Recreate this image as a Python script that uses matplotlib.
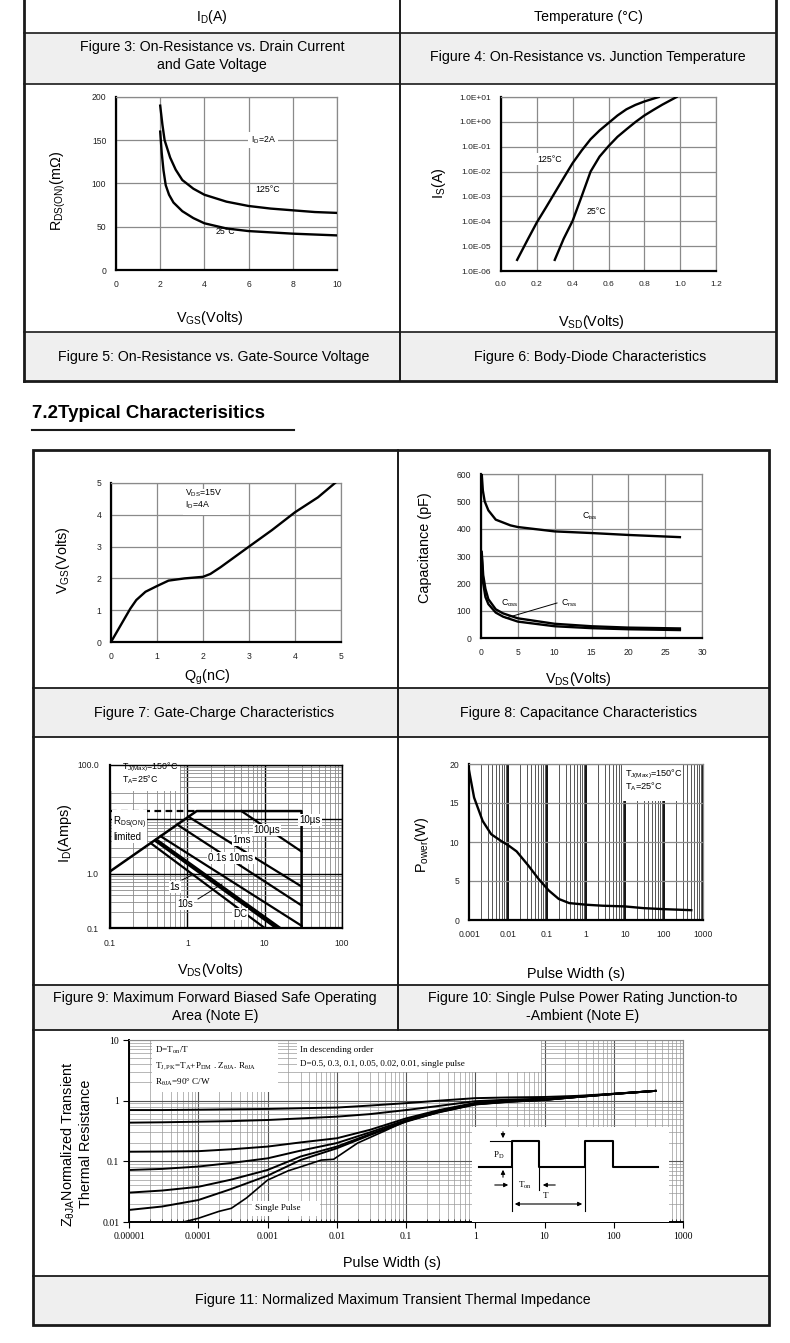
import matplotlib
matplotlib.use("Agg")
import matplotlib.pyplot as plt
from matplotlib.patches import Rectangle
from matplotlib.ticker import NullLocator, LogLocator, NullFormatter

plt.rcParams['font.family'] = ['Liberation Sans', 'DejaVu Sans']
plt.rcParams['mathtext.fontset'] = 'custom'
plt.rcParams['mathtext.rm'] = 'Liberation Sans'
plt.rcParams['mathtext.it'] = 'Liberation Sans:italic'
plt.rcParams['mathtext.sf'] = 'Liberation Serif'
plt.rcParams['mathtext.default'] = 'rm'

W, H = 790, 1343

# Figure 5: on-resistance vs gate-source voltage (ID = 2A)
vgs_125 = [2.0, 2.1, 2.2, 2.45, 2.7, 3.0, 3.5, 4.0, 5.0, 6.0, 7.0, 8.0, 9.0, 10.0]
rds_125 = [190, 168, 150, 130, 116, 104, 94, 87, 79, 74, 71, 69, 67, 66]
vgs_25 = [2.0, 2.07, 2.15, 2.25, 2.4, 2.6, 3.0, 3.5, 4.0, 5.0, 6.0, 7.0, 8.0, 9.0, 10.0]
rds_25 = [160, 135, 115, 98, 87, 78, 68, 60, 54, 48, 45, 43.5, 42, 41, 40]

# Figure 6: body diode
vsd_125 = [0.09, 0.15, 0.2, 0.25, 0.3, 0.35, 0.4, 0.45, 0.5, 0.55, 0.6, 0.65, 0.7, 0.75, 0.8, 0.88]
is_125 = [2.8e-6, 1.9e-5, 9e-5, 3.5e-4, 1.4e-3, 5.6e-3, 2.2e-2, 7e-2, 0.2, 0.45, 0.9, 1.8, 3.2, 4.8, 6.6, 10]
vsd_25 = [0.3, 0.35, 0.4, 0.45, 0.5, 0.55, 0.6, 0.65, 0.7, 0.75, 0.8, 0.85, 0.9, 0.98]
is_25 = [2.8e-6, 2e-5, 1.05e-4, 1e-3, 1e-2, 0.04, 0.105, 0.25, 0.5, 0.98, 1.8, 3.0, 4.9, 10]

# Figure 7: gate charge
qg = [0, 0.2, 0.42, 0.55, 0.75, 1.0, 1.25, 1.6, 2.0, 2.16, 2.38, 3.0, 3.5, 4.0, 4.5, 4.87]
vgs_q = [0, 0.5, 1.05, 1.32, 1.58, 1.76, 1.93, 2.0, 2.05, 2.14, 2.35, 3.0, 3.52, 4.08, 4.55, 5.0]

# Figure 8: capacitance
vds_ciss = [0.1, 0.25, 0.5, 1, 2, 4, 5, 10, 15, 20, 27]
ciss = [600, 540, 500, 467, 433, 412, 406, 390, 384, 377, 369]
vds_c = [0.1, 0.3, 0.6, 1, 2, 3, 5, 10, 15, 20, 27]
coss = [315, 230, 180, 142, 105, 90, 72, 52, 43, 38, 35]
crss = [300, 200, 150, 124, 93, 78, 60, 43, 36, 32, 29]

# Figure 9: safe operating area
soa_v = [0.1, 1.32, 30, 30]
soa_i = [1.1, 14.2, 14.2, 0.1]
rds_lim_v = [0.1, 1.32]
rds_lim_i = [14.2, 14.2]
pulse_names = ['10us', '100us', '1ms', '10ms', '0.1s', '1s', '10s', 'DC']
pulse_v0 = [5.0, 1.03, 0.74, 0.45, 0.40, 0.39, 0.38, 0.34]
pulse_i0 = [14.2, 11.2, 8.0, 4.9, 4.25, 4.15, 4.05, 3.6]
pulse_v1 = [30, 30, 30, 30, 16, 15, 14, 10]
pulse_i1 = [2.55, 0.58, 0.26, 0.11, 0.1, 0.1, 0.1, 0.1]

# Figure 10: single pulse power
pw = [0.001, 0.00135, 0.00224, 0.0037, 0.0068, 0.01, 0.0166, 0.033, 0.06, 0.11,
      0.2, 0.37, 1.0, 2.7, 10, 30, 100, 500]
pwr = [19.2, 15.7, 12.7, 11.0, 10.1, 9.6, 8.8, 7.0, 5.3, 3.8,
       2.7, 2.17, 1.96, 1.83, 1.74, 1.52, 1.39, 1.26]

# Figure 11: normalized transient thermal impedance
zt = [1e-5, 3e-5, 1e-4, 3e-4, 1e-3, 3e-3, 1e-2, 3e-2, 0.1, 0.3, 1, 3, 10, 30, 100, 400]
z_d50 = [0.70, 0.70, 0.71, 0.72, 0.73, 0.75, 0.77, 0.83, 0.91, 1.0, 1.1, 1.13, 1.15, 1.2, 1.3, 1.45]
z_d30 = [0.434, 0.44, 0.45, 0.46, 0.48, 0.51, 0.545, 0.60, 0.70, 0.82, 0.98, 1.04, 1.08, 1.17, 1.3, 1.45]
z_d10 = [0.144, 0.145, 0.147, 0.158, 0.175, 0.205, 0.24, 0.33, 0.51, 0.70, 0.92, 1.0, 1.05, 1.16, 1.29, 1.45]
z_d05 = [0.072, 0.075, 0.082, 0.094, 0.112, 0.15, 0.2, 0.30, 0.48, 0.68, 0.90, 0.98, 1.04, 1.15, 1.29, 1.45]
z_d02 = [0.0305, 0.033, 0.038, 0.050, 0.072, 0.12, 0.175, 0.28, 0.46, 0.66, 0.88, 0.97, 1.03, 1.15, 1.29, 1.45]
z_d01 = [0.0158, 0.018, 0.023, 0.035, 0.058, 0.105, 0.164, 0.27, 0.45, 0.65, 0.87, 0.96, 1.03, 1.15, 1.29, 1.45]
zt_single = [6.1e-5, 1e-4, 2e-4, 3e-4, 5e-4, 1e-3, 2e-3, 3.1e-3, 6e-3, 9e-3, 2e-2, 5e-2,
             0.1, 0.3, 1, 3, 10, 30, 100, 400]
z_single = [0.01, 0.0115, 0.015, 0.0168, 0.025, 0.049, 0.07, 0.082, 0.105, 0.108, 0.2, 0.32,
            0.46, 0.64, 0.86, 0.95, 1.02, 1.15, 1.29, 1.45]


fig = plt.figure(figsize=(W / 100, H / 100), dpi=100)
bg = fig.add_axes([0, 0, 1, 1])
bg.set_xlim(0, W)
bg.set_ylim(H, 0)
bg.axis('off')

INK = '#1a1a1a'
BAND = '#efefef'


def fx(x):
    return x / W


def fy(y):
    return 1 - y / H


def px_axes(l, t, r, b):
    return fig.add_axes([fx(l), fy(b), (r - l) / W, (b - t) / H])


def ptext(ax, x, y, s, **kw):
    kw.setdefault('fontsize', 6.3)
    kw.setdefault('ha', 'center')
    kw.setdefault('va', 'center')
    return ax.text(fx(x), fy(y), s, transform=fig.transFigure, **kw)


def white_box(ax, l, t, r, b, z=1.5):
    ax.add_patch(Rectangle((fx(l), fy(b)), (r - l) / W, (b - t) / H,
                           transform=fig.transFigure, fc='white', ec='none', zorder=z))


def lin_axes(l, t, r, b):
    ax = px_axes(l, t, r, b)
    ax.grid(True, color='#8a8a8a', lw=0.9)
    ax.set_axisbelow(True)
    for s in ('top', 'right'):
        ax.spines[s].set_color('#8a8a8a')
        ax.spines[s].set_linewidth(0.9)
    for s in ('left', 'bottom'):
        ax.spines[s].set_color('black')
        ax.spines[s].set_linewidth(1.6)
    ax.tick_params(length=0, labelsize=6.2, pad=7, labelcolor='#222')
    return ax


# ---------- page frame ----------
bg.add_patch(Rectangle((24, 33), 752, 51, fc=BAND, ec='none'))
bg.add_patch(Rectangle((24, 332), 752, 49, fc=BAND, ec='none'))
for y in (33, 84, 332):
    bg.plot([24, 776], [y, y], color=INK, lw=1.2)
bg.plot([24, 776], [381, 381], color=INK, lw=2)
for x in (24, 776):
    bg.plot([x, x], [0, 381], color=INK, lw=2)
bg.plot([400, 400], [0, 381], color=INK, lw=1.4)

bg.text(212, 17, 'I$_D$(A)', fontsize=10.2, ha='center', va='center')
bg.text(588, 17, 'Temperature (°C)', fontsize=10.2, ha='center', va='center')
bg.text(212, 56, 'Figure 3: On-Resistance vs. Drain Current\nand Gate Voltage', fontsize=10.2,
        ha='center', va='center', linespacing=1.45)
bg.text(588, 57, 'Figure 4: On-Resistance vs. Junction Temperature', fontsize=10.2,
        ha='center', va='center')
bg.text(214, 357, 'Figure 5: On-Resistance vs. Gate-Source Voltage', fontsize=10.2,
        ha='center', va='center')
bg.text(590, 357, 'Figure 6: Body-Diode Characteristics', fontsize=10.2, ha='center', va='center')

bg.text(32, 413, '7.2Typical Characterisitics', fontsize=13.4, weight='bold', va='center')
bg.plot([32, 294], [430, 430], color=INK, lw=1.5)

for t, b in ((688, 737), (985, 1030), (1276, 1325)):
    bg.add_patch(Rectangle((33, t), 736, b - t, fc=BAND, ec='none'))
for y in (688, 737, 985, 1030, 1276):
    bg.plot([33, 769], [y, y], color=INK, lw=1.3)
bg.add_patch(Rectangle((33, 450), 736, 875, fc='none', ec=INK, lw=2))
bg.plot([398, 398], [450, 1030], color=INK, lw=1.4)

bg.text(214, 713, 'Figure 7: Gate-Charge Characteristics', fontsize=10.2, ha='center', va='center')
bg.text(578, 713, 'Figure 8: Capacitance Characteristics', fontsize=10.2, ha='center', va='center')
bg.text(215, 1007, 'Figure 9: Maximum Forward Biased Safe Operating\nArea (Note E)', fontsize=10.2,
        ha='center', va='center', linespacing=1.45)
bg.text(583, 1007, 'Figure 10: Single Pulse Power Rating Junction-to\n-Ambient (Note E)', fontsize=10.2,
        ha='center', va='center', linespacing=1.45)
bg.text(393, 1300, 'Figure 11: Normalized Maximum Transient Thermal Impedance', fontsize=10.2,
        ha='center', va='center')

# axis titles
LAB = 10.4
bg.text(58, 191, 'R$_{DS(ON)}$(mΩ)', fontsize=LAB, rotation=90, ha='center', va='center')
bg.text(210, 318, 'V$_{GS}$(Volts)', fontsize=LAB, ha='center', va='center')
bg.text(439, 183, 'I$_S$(A)', fontsize=LAB, rotation=90, ha='center', va='center')
bg.text(591, 322, 'V$_{SD}$(Volts)', fontsize=LAB, ha='center', va='center')
bg.text(63, 560, 'V$_{GS}$(Volts)', fontsize=LAB, rotation=90, ha='center', va='center')
bg.text(207, 677, 'Q$_g$(nC)', fontsize=LAB, ha='center', va='center')
bg.text(425, 548, 'Capacitance (pF)', fontsize=LAB, rotation=90, ha='center', va='center')
bg.text(578, 679, 'V$_{DS}$(Volts)', fontsize=LAB, ha='center', va='center')
bg.text(65, 833, 'I$_D$(Amps)', fontsize=LAB, rotation=90, ha='center', va='center')
bg.text(210, 970, 'V$_{DS}$(Volts)', fontsize=LAB, ha='center', va='center')
bg.text(422, 845, 'P$_{ower}$(W)', fontsize=LAB, rotation=90, ha='center', va='center')
bg.text(576, 974, 'Pulse Width (s)', fontsize=LAB, ha='center', va='center')
bg.text(76, 1144, 'Z$_{θJA}$Normalized Transient\nThermal Resistance', fontsize=LAB, rotation=90,
        ha='center', va='center', multialignment='center', linespacing=1.15)
bg.text(392, 1263, 'Pulse Width (s)', fontsize=LAB, ha='center', va='center')

# ---------- Figure 5 ----------
ax = lin_axes(116, 97, 337, 270)
ax.plot(vgs_125, rds_125, color='black', lw=1.7, zorder=3)
ax.plot(vgs_25, rds_25, color='black', lw=1.7, zorder=3)
ax.set_xlim(0, 10)
ax.set_ylim(0, 200)
ax.set_xticks(range(0, 11, 2))
ax.set_yticks(range(0, 201, 50))
ptext(ax, 263, 140, 'I$_D$=2A', bbox=dict(fc='white', ec='none', pad=1.5), zorder=2)
ptext(ax, 268, 189, '125°C', zorder=2)
ptext(ax, 225, 232, '25°C', zorder=2)

# ---------- Figure 6 ----------
ax = lin_axes(501, 97, 716, 271)
ax.plot(vsd_125, is_125, color='black', lw=1.7, zorder=3)
ax.plot(vsd_25, is_25, color='black', lw=1.7, zorder=3)
ax.set_yscale('log')
ax.set_xlim(0, 1.2)
ax.set_ylim(1e-6, 1e1)
ax.set_xticks([0, 0.2, 0.4, 0.6, 0.8, 1.0, 1.2])
ax.set_xticklabels(['0.0', '0.2', '0.4', '0.6', '0.8', '1.0', '1.2'])
ax.set_yticks([1e-6, 1e-5, 1e-4, 1e-3, 1e-2, 1e-1, 1e0, 1e1])
ax.set_yticklabels(['1.0E-06', '1.0E-05', '1.0E-04', '1.0E-03', '1.0E-02', '1.0E-01',
                    '1.0E+00', '1.0E+01'])
ax.yaxis.set_minor_locator(NullLocator())
ax.tick_params(labelsize=6.0)
ptext(ax, 550, 159, '125°C', bbox=dict(fc='white', ec='none', pad=1), zorder=2)
ptext(ax, 596, 211, '25°C', bbox=dict(fc='white', ec='none', pad=1), zorder=2)

# ---------- Figure 7 ----------
ax = lin_axes(111, 483, 341, 642)
ax.plot(qg, vgs_q, color='black', lw=1.7, zorder=3)
ax.set_xlim(0, 5)
ax.set_ylim(0, 5)
ax.set_xticks(range(0, 6))
ax.set_yticks(range(0, 6))
white_box(ax, 183, 489, 230, 515)
ptext(ax, 185, 493, 'V$_{DS}$=15V', ha='left', zorder=2)
ptext(ax, 185, 505, 'I$_D$=4A', ha='left', zorder=2)

# ---------- Figure 8 ----------
ax = lin_axes(481, 474, 702, 638)
ax.plot(vds_ciss, ciss, color='black', lw=1.7, zorder=3)
ax.plot(vds_c, coss, color='black', lw=1.7, zorder=3)
ax.plot(vds_c, crss, color='black', lw=1.7, zorder=3)
ax.set_xlim(0, 30)
ax.set_ylim(0, 600)
ax.set_xticks(range(0, 31, 5))
ax.set_yticks(range(0, 601, 100))
ptext(ax, 590, 516, 'C$_{iss}$', zorder=2)
ptext(ax, 510, 603, 'C$_{oss}$', zorder=2)
ptext(ax, 569, 603, 'C$_{rss}$', zorder=2)
ax.plot([fx(506), fx(557)], [fy(618), fy(603)], transform=fig.transFigure, color='black', lw=0.7)

# ---------- Figure 9 ----------
ax = px_axes(110, 765, 342, 928)
ax.set_xscale('log')
ax.set_yscale('log')
ax.set_xlim(0.1, 100)
ax.set_ylim(0.1, 100)
ax.grid(True, which='major', color='black', lw=1.0)
ax.grid(True, which='minor', color='#8a8a8a', lw=0.6)
ax.set_axisbelow(True)
for s in ax.spines.values():
    s.set_color('black')
    s.set_linewidth(1.0)
ax.spines['left'].set_linewidth(1.6)
ax.spines['bottom'].set_linewidth(1.6)
ax.set_xticks([0.1, 1, 10, 100])
ax.set_xticklabels(['0.1', '1', '10', '100'])
ax.set_yticks([0.1, 1, 10, 100])
ax.set_yticklabels(['0.1', '1.0', '', '100.0'])
ax.xaxis.set_minor_formatter(NullFormatter())
ax.yaxis.set_minor_formatter(NullFormatter())
ax.tick_params(which='both', length=0, labelsize=6.2, pad=8, labelcolor='#222')
ax.plot(rds_lim_v, rds_lim_i, color='black', lw=1.6, ls=(0, (3, 2)), zorder=3)
ax.plot(soa_v, soa_i, color='black', lw=1.8, zorder=3)
for k in range(len(pulse_names)):
    ax.plot([pulse_v0[k], pulse_v1[k]], [pulse_i0[k], pulse_i1[k]], color='black', lw=1.6, zorder=3)
wb = dict(fc='white', ec='none', pad=0.8)
ptext(ax, 113, 828, 'R$_{DS(ON)}$\nlimited', ha='left', fontsize=7, linespacing=1.1, bbox=wb, zorder=4)
ptext(ax, 310, 820, '10µs', fontsize=7, bbox=wb, zorder=4)
ptext(ax, 267, 830, '100µs', fontsize=7, bbox=wb, zorder=4)
ptext(ax, 242, 840, '1ms', fontsize=7, bbox=wb, zorder=4)
ptext(ax, 231, 858, '0.1s 10ms', fontsize=7, bbox=wb, zorder=4)
ptext(ax, 175, 887, '1s', fontsize=7, bbox=wb, zorder=4)
ptext(ax, 185, 904, '10s', fontsize=7, bbox=wb, zorder=4)
ptext(ax, 240, 914, 'DC', fontsize=7, bbox=wb, zorder=4)
ax.plot([fx(182), fx(194)], [fy(880), fy(874)], transform=fig.transFigure, color='black', lw=0.7, zorder=4)
ax.plot([fx(198), fx(222)], [fy(899), fy(884)], transform=fig.transFigure, color='black', lw=0.7, zorder=4)
white_box(ax, 110, 765, 180, 791, z=2.5)
ptext(ax, 122, 767, 'T$_{J(Max)}$=150°C', ha='left', fontsize=6.4, zorder=4)
ptext(ax, 122, 780, 'T$_A$=25°C', ha='left', fontsize=6.4, zorder=4)

# ---------- Figure 10 ----------
ax = px_axes(469, 764, 703, 920)
ax.set_xscale('log')
ax.set_xlim(0.001, 1000)
ax.set_ylim(0, 20)
ax.grid(True, which='major', axis='x', color='black', lw=1.3)
ax.grid(True, which='minor', axis='x', color='#555555', lw=0.7)
ax.grid(True, which='major', axis='y', color='#8a8a8a', lw=0.9)
ax.set_axisbelow(True)
for s in ('top', 'right'):
    ax.spines[s].set_color('#8a8a8a')
    ax.spines[s].set_linewidth(0.9)
for s in ('left', 'bottom'):
    ax.spines[s].set_linewidth(1.6)
ax.set_xticks([0.001, 0.01, 0.1, 1, 10, 100, 1000])
ax.set_xticklabels(['0.001', '0.01', '0.1', '1', '10', '100', '1000'])
ax.xaxis.set_minor_formatter(NullFormatter())
ax.set_yticks(range(0, 21, 5))
ax.tick_params(which='both', length=0, labelsize=6.2, pad=7, labelcolor='#222')
ax.plot(pw, pwr, color='black', lw=1.7, zorder=3)
white_box(ax, 622, 765, 683, 801)
ptext(ax, 625, 774, 'T$_{J(Max)}$=150°C', ha='left', fontsize=6.6, zorder=4)
ptext(ax, 625, 787, 'T$_A$=25°C', ha='left', fontsize=6.6, zorder=4)

# ---------- Figure 11 ----------
ax = px_axes(129, 1040, 683, 1222)
ax.set_xscale('log')
ax.set_yscale('log')
ax.set_xlim(1e-5, 1e3)
ax.set_ylim(0.01, 10)
ax.xaxis.set_major_locator(LogLocator(base=10, numticks=20))
ax.xaxis.set_minor_locator(LogLocator(base=10, subs=range(2, 10), numticks=100))
ax.grid(True, which='major', color='#555555', lw=0.8)
ax.grid(True, which='minor', color='#9a9a9a', lw=0.5)
ax.set_axisbelow(True)
for s in ('top', 'right'):
    ax.spines[s].set_color('#8a8a8a')
    ax.spines[s].set_linewidth(0.8)
for s in ('left', 'bottom'):
    ax.spines[s].set_linewidth(1.4)
ax.set_xticks([1e-5, 1e-4, 1e-3, 1e-2, 1e-1, 1, 10, 100, 1000])
ax.set_xticklabels(['0.00001', '0.0001', '0.001', '0.01', '0.1', '1', '10', '100', '1000'],
                   fontfamily='Liberation Serif')
ax.set_yticks([0.01, 0.1, 1, 10])
ax.set_yticklabels(['0.01', '0.1', '1', '10'], fontfamily='Liberation Serif')
ax.xaxis.set_minor_formatter(NullFormatter())
ax.yaxis.set_minor_formatter(NullFormatter())
ax.tick_params(which='major', direction='out', length=4, width=0.8, labelsize=7, pad=3)
ax.tick_params(which='minor', direction='in', length=2.5, width=0.5)
ax.tick_params(axis='y', which='minor', length=0)
for z in (z_d50, z_d30, z_d10, z_d05, z_d02, z_d01):
    ax.plot(zt, z, color='black', lw=1.4, zorder=3)
ax.plot(zt_single, z_single, color='black', lw=1.2, zorder=3)

serif = dict(fontfamily='Liberation Serif', fontsize=6.6, ha='left', zorder=4)
white_box(ax, 152, 1040, 278, 1092, z=2.5)
white_box(ax, 297, 1040, 541, 1072, z=2.5)
ptext(ax, 155, 1050, 'D=T$_{\\mathsf{on}}$/T', **serif)
ptext(ax, 155, 1066, 'T$_{\\mathsf{J,PK}}$=T$_{\\mathsf{A}}$+P$_{\\mathsf{DM}}$ . Z$_{\\mathsf{θJA}}$. R$_{\\mathsf{θJA}}$',
      **serif)
ptext(ax, 155, 1082, 'R$_{\\mathsf{θJA}}$=90° C/W', **serif)
ptext(ax, 300, 1050, 'In descending order', **serif)
ptext(ax, 300, 1064, 'D=0.5, 0.3, 0.1, 0.05, 0.02, 0.01, single pulse', **serif)
white_box(ax, 252, 1201, 320, 1216, z=2.5)
ptext(ax, 255, 1208, 'Single Pulse', **serif)

# pulse train sketch
ins = px_axes(472, 1127, 669, 1222)
ins.set_xlim(472, 669)
ins.set_ylim(1222, 1127)
ins.axis('off')
ins.add_patch(Rectangle((472, 1127), 197, 95, fc='white', ec='none', zorder=0))
ins.plot([479, 512, 512, 539, 539, 585, 585, 612.5, 612.5, 658],
         [1167, 1167, 1141, 1141, 1167, 1167, 1141, 1141, 1167, 1167], color='black', lw=1.5)
ins.plot([490, 512], [1141, 1141], color='black', lw=0.8)
ins.plot([512, 512], [1167, 1211], color='black', lw=0.8)
ins.plot([539, 539], [1167, 1190], color='black', lw=0.8)
ins.plot([585, 585], [1167, 1211], color='black', lw=0.8)
arr = dict(arrowstyle='-|>', color='black', lw=0.8, mutation_scale=6)
ins.annotate('', xy=(503, 1141), xytext=(503, 1129), arrowprops=arr)
ins.annotate('', xy=(503, 1167), xytext=(503, 1180), arrowprops=arr)
ins.annotate('', xy=(511, 1185), xytext=(492, 1185), arrowprops=arr)
ins.annotate('', xy=(540, 1185), xytext=(558, 1185), arrowprops=arr)
ins.annotate('', xy=(585, 1204), xytext=(512, 1204),
             arrowprops=dict(arrowstyle='<|-|>', color='black', lw=0.8, mutation_scale=6))
ins.text(499, 1155, 'P$_{\\mathsf{D}}$', fontfamily='Liberation Serif', fontsize=6.6, ha='center', va='center')
ins.text(525, 1185, 'T$_{\\mathsf{on}}$', fontfamily='Liberation Serif', fontsize=6.6, ha='center', va='center')
ins.text(546, 1196, 'T', fontfamily='Liberation Serif', fontsize=6.6, ha='center', va='center')

fig.savefig('out.png', dpi=100)
